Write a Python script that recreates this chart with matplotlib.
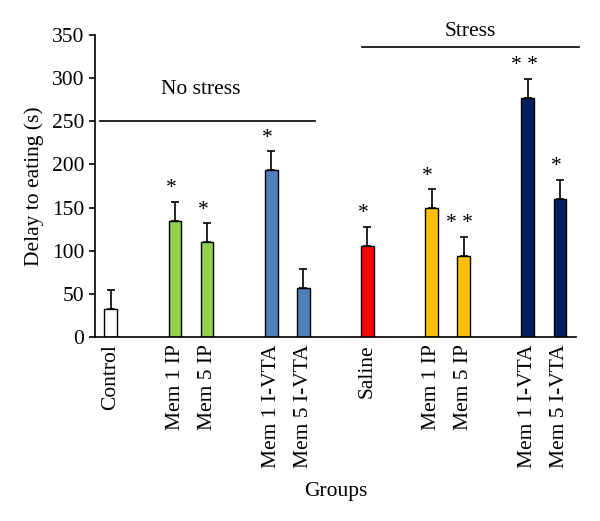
import numpy as np
import matplotlib
matplotlib.use('Agg')
import matplotlib.pyplot as plt

plt.rcParams['font.family'] = ['Liberation Serif', 'DejaVu Serif']

# data
groups = ['Control', 'Mem 1 IP', 'Mem 5 IP', 'Mem 1 I-VTA', 'Mem 5 I-VTA',
          'Saline', 'Mem 1 IP', 'Mem 5 IP', 'Mem 1 I-VTA', 'Mem 5 I-VTA']
slots = [0, 2, 3, 5, 6, 8, 10, 11, 13, 14]
means = [33, 135, 110, 193, 57, 106, 149, 94, 277, 160]
errs = [22, 22, 22, 22, 22, 22, 22, 22, 22, 22]
stars = ['', '*', '*', '*', '', '*', '*', '* *', '* *', '*']
colors = ['#FFFFFF', '#92D050', '#92D050', '#4F81BD', '#4F81BD',
          '#FF0000', '#FFC000', '#FFC000', '#002060', '#002060']

fs = 15.5

fig = plt.figure(figsize=(6, 5.21), dpi=100)
ax = fig.add_axes([0.158, 0.353, 0.802, 0.58])

x = np.array(slots)
ax.bar(x, means, width=0.4, color=colors, edgecolor='black', linewidth=1, zorder=2)
ax.errorbar(x, means, yerr=[np.zeros(len(errs)), errs], fmt='none',
            ecolor='black', elinewidth=1.2, capsize=3, capthick=1.2, zorder=1)

for xi, m, e, s in zip(x, means, errs, stars):
    if s:
        ax.text(xi - 0.12, m + e + 4, s, ha='center', va='bottom', fontsize=fs)

# group brackets
ax.plot([-0.34, 6.36], [250, 250], color='black', lw=1.2, clip_on=False)
ax.text(2.8, 287, 'No stress', ha='center', va='center', fontsize=fs)
ax.plot([7.83, 14.6], [335.5, 335.5], color='black', lw=1.2, clip_on=False)
ax.text(11.2, 354, 'Stress', ha='center', va='center', fontsize=fs)

ax.set_xlim(-0.5, 14.5)
ax.set_ylim(0, 350)
ax.set_yticks(np.arange(0, 351, 50))
ax.set_xticks(x)
ax.set_xticklabels(groups, rotation=90, fontsize=fs)
ax.tick_params(axis='x', length=0, pad=5)
ax.tick_params(axis='y', length=4, labelsize=fs, width=1.2)
for side in ['top', 'right']:
    ax.spines[side].set_visible(False)
ax.spines['left'].set_linewidth(1.2)
ax.spines['bottom'].set_linewidth(1.2)

ax.set_ylabel('Delay to eating (s)', fontsize=fs, labelpad=6)
ax.set_xlabel('Groups', fontsize=fs, labelpad=10)

fig.savefig('out.png', dpi=100)
